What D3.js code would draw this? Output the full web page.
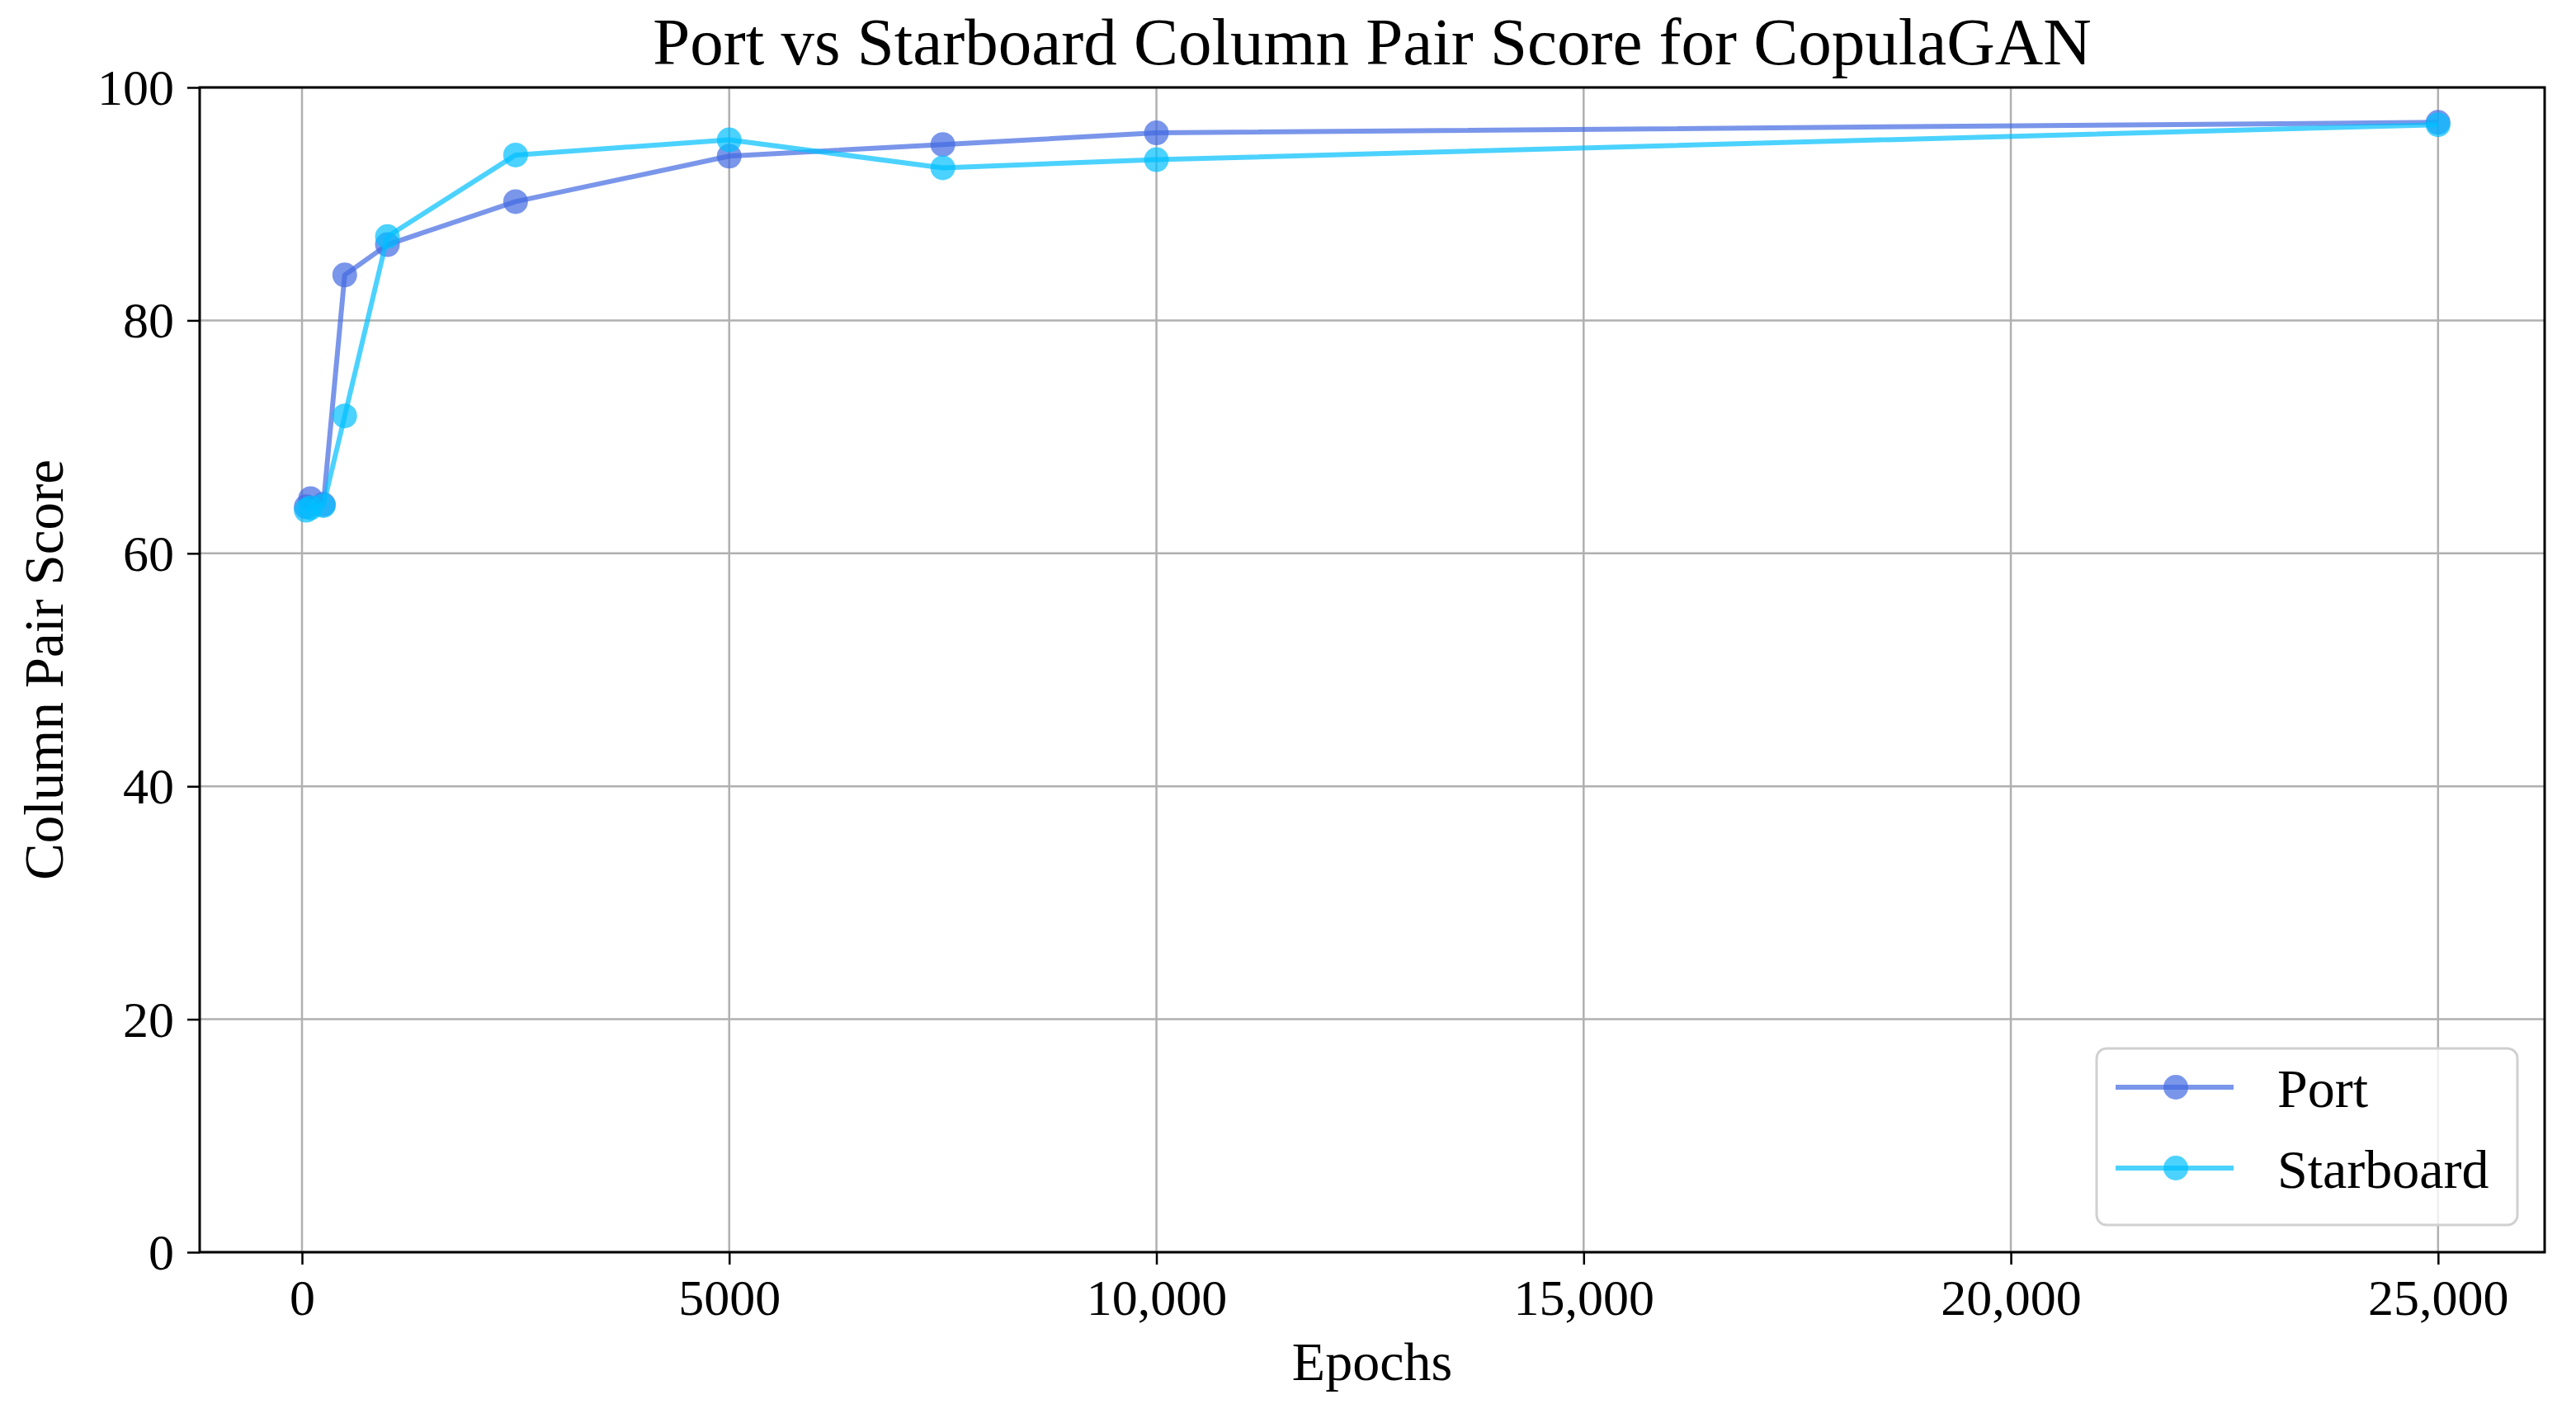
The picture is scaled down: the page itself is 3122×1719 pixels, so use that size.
<!DOCTYPE html>
<html>
<head>
<meta charset="utf-8">
<script src="https://cdn.jsdelivr.net/npm/d3@7/dist/d3.min.js"></script>
<style>
  body { margin: 0; background: #fff; }
  svg text { font-family: 'Liberation Serif', 'Times New Roman', serif; fill: #000; }
</style>
</head>
<body>
<div id="chart"></div>
<script>
// Chart data
const epochs = [50, 100, 250, 500, 1000, 2500, 5000, 7500, 10000, 25000];
const portScores = [64.0, 64.7, 64.2, 83.9, 86.5, 90.2, 94.1, 95.1, 96.1, 97.0];
const starboardScores = [63.7, 63.9, 64.1, 71.8, 87.2, 94.2, 95.5, 93.1, 93.8, 96.8];
const seriesNames = ['Port', 'Starboard'];
const xTickValues = [0, 5000, 10000, 15000, 20000, 25000];
const xTickLabels = ['0', '5000', '10,000', '15,000', '20,000', '25,000'];
const yTickValues = [0, 20, 40, 60, 80, 100];

const width = 3122;
const height = 1719;
const margin = { top: 106, right: 38, bottom: 201, left: 242 };

const PORT_COLOR = '#4169e1';
const STARBOARD_COLOR = '#00bfff';
const colors = [PORT_COLOR, STARBOARD_COLOR];
const MARKER_R = 15;

const svg = d3.select('#chart')
  .append('svg')
  .attr('width', width)
  .attr('height', height);

// matplotlib-style 5% margin on the x data range
const xSpan = d3.max(epochs) - d3.min(epochs);
const xscale = d3.scaleLinear()
  .domain([d3.min(epochs) - 0.05 * xSpan, d3.max(epochs) + 0.05 * xSpan])
  .range([margin.left, width - margin.right]);

const yscale = d3.scaleLinear()
  .domain([0, 100])
  .range([height - margin.bottom, margin.top]);

// Grid lines
const grid = svg.append('g').attr('class', 'grid');
grid.selectAll('line.vx')
  .data(xTickValues)
  .enter()
  .append('line')
  .attr('x1', (d) => xscale(d))
  .attr('x2', (d) => xscale(d))
  .attr('y1', margin.top)
  .attr('y2', height - margin.bottom)
  .attr('stroke', '#b0b0b0')
  .attr('stroke-width', 2.5);
grid.selectAll('line.hy')
  .data(yTickValues)
  .enter()
  .append('line')
  .attr('x1', margin.left)
  .attr('x2', width - margin.right)
  .attr('y1', (d) => yscale(d))
  .attr('y2', (d) => yscale(d))
  .attr('stroke', '#b0b0b0')
  .attr('stroke-width', 2.5);

// Axes
const xAxis = d3.axisBottom(xscale)
  .tickValues(xTickValues)
  .tickFormat((d, i) => xTickLabels[i])
  .tickSizeOuter(0)
  .tickSize(15)
  .tickPadding(14);
const gx = svg.append('g')
  .attr('transform', `translate(0, ${height - margin.bottom})`)
  .call(xAxis);
gx.select('.domain').remove();
gx.selectAll('.tick line').attr('stroke', '#000').attr('stroke-width', 2.5);
gx.selectAll('.tick text')
  .style('font-size', '62px')
  .attr('dy', '0.76em');

const yAxis = d3.axisLeft(yscale)
  .tickValues(yTickValues)
  .tickSizeOuter(0)
  .tickSize(15)
  .tickPadding(16);
const gy = svg.append('g')
  .attr('transform', `translate(${margin.left}, 0)`)
  .call(yAxis);
gy.select('.domain').remove();
gy.selectAll('.tick line').attr('stroke', '#000').attr('stroke-width', 2.5);
gy.selectAll('.tick text')
  .style('font-size', '62px')
  .attr('dy', '0.33em');

// Plot frame
svg.append('rect')
  .attr('x', margin.left)
  .attr('y', margin.top)
  .attr('width', width - margin.left - margin.right)
  .attr('height', height - margin.top - margin.bottom)
  .attr('fill', 'none')
  .attr('stroke', '#000')
  .attr('stroke-width', 3);

// Series lines and markers
const series = [portScores, starboardScores].map((vals, i) => ({
  name: seriesNames[i],
  color: colors[i],
  points: epochs.map((e, j) => ({ x: e, y: vals[j] })),
}));

const line = d3.line()
  .x((d) => xscale(d.x))
  .y((d) => yscale(d.y));

series.forEach((s) => {
  const g = svg.append('g').attr('class', 'series');
  g.append('path')
    .datum(s.points)
    .attr('d', line)
    .attr('fill', 'none')
    .attr('stroke', s.color)
    .attr('stroke-opacity', 0.7)
    .attr('stroke-width', 6)
    .attr('stroke-linejoin', 'round');
  g.selectAll('circle')
    .data(s.points)
    .enter()
    .append('circle')
    .attr('cx', (d) => xscale(d.x))
    .attr('cy', (d) => yscale(d.y))
    .attr('r', MARKER_R)
    .attr('fill', s.color)
    .attr('fill-opacity', 0.7);
});

// Title and axis labels
svg.append('text')
  .attr('x', (margin.left + width - margin.right) / 2)
  .attr('y', 78)
  .attr('text-anchor', 'middle')
  .style('font-size', '81px')
  .text('Port vs Starboard Column Pair Score for CopulaGAN');

svg.append('text')
  .attr('x', (margin.left + width - margin.right) / 2)
  .attr('y', 1673)
  .attr('text-anchor', 'middle')
  .style('font-size', '66px')
  .text('Epochs');

svg.append('text')
  .attr('transform', `translate(76, ${(margin.top + height - margin.bottom) / 2}) rotate(-90)`)
  .attr('text-anchor', 'middle')
  .style('font-size', '67px')
  .text('Column Pair Score');

// Legend (lower right)
const legend = svg.append('g').attr('id', 'legend');
const legendX = 2541;
const legendY = 1271;
legend.append('rect')
  .attr('x', legendX)
  .attr('y', legendY)
  .attr('width', 510)
  .attr('height', 214)
  .attr('rx', 12)
  .attr('fill', '#fff')
  .attr('fill-opacity', 0.8)
  .attr('stroke', '#d0d0d0')
  .attr('stroke-width', 3);

series.forEach((s, i) => {
  const rowY = legendY + 47 + i * 98;
  legend.append('line')
    .attr('x1', legendX + 23)
    .attr('x2', legendX + 166)
    .attr('y1', rowY)
    .attr('y2', rowY)
    .attr('stroke', s.color)
    .attr('stroke-opacity', 0.7)
    .attr('stroke-width', 6);
  legend.append('circle')
    .attr('cx', legendX + 96)
    .attr('cy', rowY)
    .attr('r', MARKER_R)
    .attr('fill', s.color)
    .attr('fill-opacity', 0.7);
  legend.append('text')
    .attr('x', legendX + 219)
    .attr('y', rowY + 24)
    .style('font-size', '66px')
    .text(s.name);
});
</script>
</body>
</html>
